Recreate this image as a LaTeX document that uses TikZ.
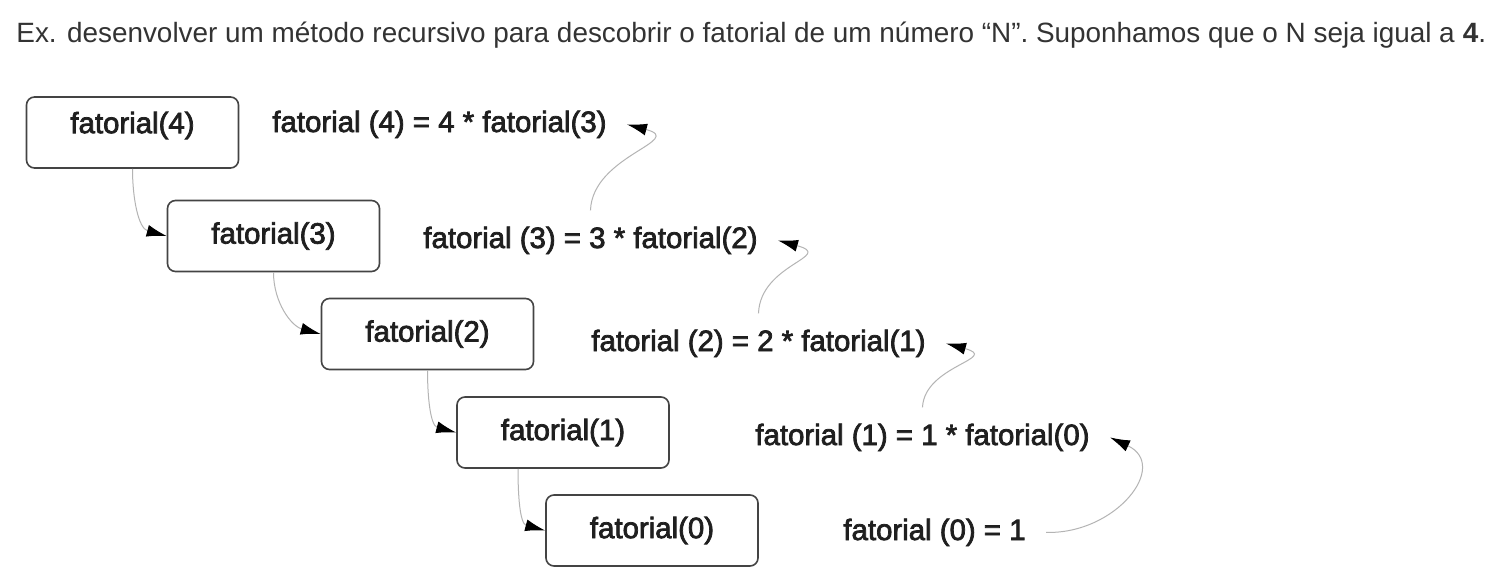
\documentclass[tikz,border=0pt]{standalone}
\usepackage{fontspec}
\setmainfont{Liberation Sans}
\newfontfamily\diagfont[FakeBold=2.5]{Liberation Sans}
\usetikzlibrary{arrows.meta}
\definecolor{titlegray}{HTML}{333333}
\definecolor{boxline}{HTML}{444444}
\definecolor{linkgray}{HTML}{B4B4B4}
\tikzset{
  fbox/.style={draw=boxline, line width=0.8pt, rounded corners=4pt,
    minimum width=106pt, minimum height=35.5pt, inner sep=0pt,
    font=\diagfont\fontsize{14.7pt}{17pt}\selectfont, text=black!88},
  eqtext/.style={anchor=base west, inner xsep=10pt, inner ysep=8pt,
    font=\diagfont\fontsize{14.7pt}{17pt}\selectfont, text=black!88},
  link/.style={draw=linkgray, line width=0.5pt,
    -{Latex[length=10pt,width=6pt,fill=black,color=black]}}
}
\begin{document}
\begin{tikzpicture}[x=0.5pt,y=0.5pt]
\useasboundingbox (0,0) rectangle (1504,-584);
\fill[white] (0,0) rectangle (1504,-584);
% title
\node[anchor=base west, inner sep=0pt, text=titlegray,
  font=\fontsize{13.95pt}{16pt}\selectfont] (title) at (16,-42)
  {Ex. desenvolver um método recursivo para descobrir o fatorial de um número “N”. Suponhamos que o N seja igual a \textbf{4}.};
% boxes
\node[fbox, text depth=10pt] (b4) at (132.5,-132.5) {fatorial(4)};
\node[fbox] (b3) at (273.5,-236) {fatorial(3)};
\node[fbox] (b2) at (427.5,-334) {fatorial(2)};
\node[fbox] (b1) at (563,-432.5) {fatorial(1)};
\node[fbox] (b0) at (652,-530.5) {fatorial(0)};
% equations
\node[eqtext] (t4) at (252,-132) {fatorial (4) = 4 * fatorial(3)};
\node[eqtext] (t3) at (403,-248) {fatorial (3) = 3 * fatorial(2)};
\node[eqtext] (t2) at (571,-351) {fatorial (2) = 2 * fatorial(1)};
\node[eqtext] (t1) at (735,-445) {fatorial (1) = 1 * fatorial(0)};
\node[eqtext] (t0) at (823,-540) {fatorial (0) = 1};
% left connectors
\draw[link] (b4.south) to[out=-90,in=165] (b3.west);
\draw[link] (b3.south) to[out=-90,in=165] (b2.west);
\draw[link] (b2.south) to[out=-90,in=165] (b1.west);
\draw[link] ([xshift=-22.5pt]b1.south) to[out=-90,in=165] (b0.west);
% right connectors
\draw[link] (t3.north) .. controls +(2,55) and +(60,-16) .. (t4.east);
\draw[link] (t2.north) .. controls +(2,50) and +(58,-16) .. (t3.east);
\draw[link] (t1.north) .. controls +(2,42) and +(55,-15) .. (t2.east);
\draw[link] (t0.east) .. controls +(70,-2) and +(60,-28) .. (t1.east);
\end{tikzpicture}
\end{document}
